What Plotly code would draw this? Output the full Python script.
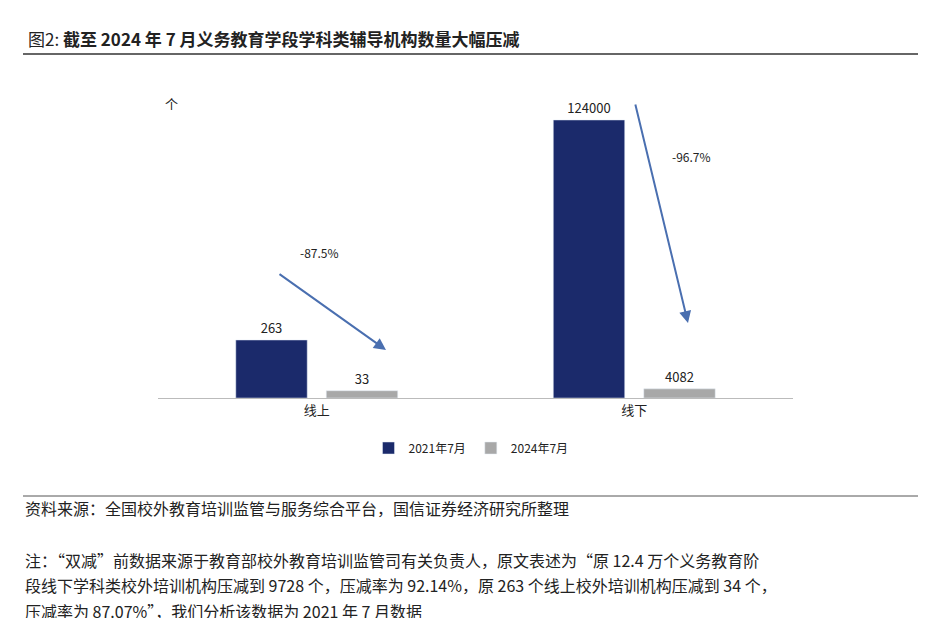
import plotly.graph_objects as go

categories = ["线上", "线下"]
series_names = ["2021年7月", "2024年7月"]
online_values = [263, 33]
offline_values = [124000, 4082]
colors = ["#1b2a6b", "#a8a8a8"]

W, H = 926, 618
L, R, T, B = 150, 785, 90, 390
def px(x): return (x - L) / (R - L)
def py(y): return (B - y) / (B - T)

fig = go.Figure()
offsets = [-0.255, 0.03]
for i in range(2):
    fig.add_trace(go.Bar(x=[categories[0]], y=[online_values[i]], name=series_names[i],
                         marker_color=colors[i], width=0.225, offset=offsets[i],
                         text=[str(online_values[i])], textposition="outside",
                         textfont=dict(size=13, color="#222"), cliponaxis=False,
                         showlegend=True, legendgroup=str(i), yaxis="y"))
    fig.add_trace(go.Bar(x=[categories[1]], y=[offline_values[i]], name=series_names[i],
                         marker_color=colors[i], width=0.225, offset=offsets[i],
                         text=[str(offline_values[i])], textposition="outside",
                         textfont=dict(size=13, color="#222"), cliponaxis=False,
                         showlegend=False, legendgroup=str(i), yaxis="y2"))

ann = []
def txt(x, y, s, size=13, anchor="left"):
    ann.append(dict(xref="paper", yref="paper", x=px(x), y=py(y), text=s, showarrow=False,
                    xanchor=anchor, yanchor="middle", font=dict(size=size, color="#222")))
def arrow(x0, y0, x1, y1):
    ann.append(dict(xref="paper", yref="paper", x=px(x1), y=py(y1),
                    ax=x0 - x1, ay=y0 - y1, text="", showarrow=True,
                    arrowhead=2, arrowsize=1.2, arrowwidth=2, arrowcolor="#4a6fb0"))

txt(18, 30, "图2: <b>截至 2024 年 7 月义务教育学段学科类辅导机构数量大幅压减</b>", 17)
txt(155, 95, "个", 13)
arrow(270, 265, 378, 342)
arrow(627, 95, 680, 315)
txt(290, 244, "-87.5%", 12)
txt(662, 148, "-96.7%", 12)
txt(15, 500, "资料来源：全国校外教育培训监管与服务综合平台，国信证券经济研究所整理", 16)
txt(15, 552, "注：“双减”前数据来源于教育部校外教育培训监管司有关负责人，原文表述为“原 12.4 万个义务教育阶", 16)
txt(15, 577, "段线下学科类校外培训机构压减到 9728 个，压减率为 92.14%，原 263 个线上校外培训机构压减到 34 个，", 16)
txt(15, 603, "压减率为 87.07%”，我们分析该数据为 2021 年 7 月数据", 16)

shapes = [
    dict(type="line", xref="paper", yref="paper", x0=px(15), x1=px(915), y0=py(46), y1=py(46),
         line=dict(color="#333", width=1.5)),
    dict(type="line", xref="paper", yref="paper", x0=px(15), x1=px(915), y0=py(488), y1=py(488),
         line=dict(color="#555", width=1)),
]

fig.update_layout(
    width=W, height=H, margin=dict(l=L, r=W - R, t=T, b=H - B),
    paper_bgcolor="white", plot_bgcolor="white",
    font=dict(family="Noto Sans CJK SC, sans-serif", color="#222"),
    barmode="overlay",
    xaxis=dict(type="category", range=[-0.5, 1.5], showline=True, linecolor="#bbb",
               ticks="", tickfont=dict(size=13)),
    yaxis=dict(range=[0, 1360], visible=False),
    yaxis2=dict(range=[0, 133800], visible=False, overlaying="y"),
    legend=dict(orientation="h", x=px(463), xanchor="center", y=py(440), yanchor="middle",
                font=dict(size=12)),
    annotations=ann, shapes=shapes,
)
fig.write_html("out.html")
